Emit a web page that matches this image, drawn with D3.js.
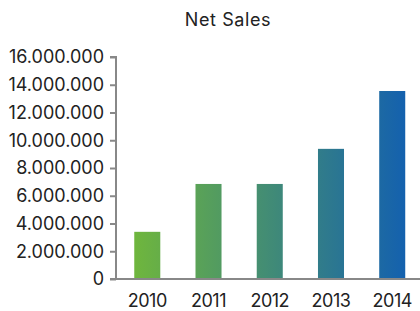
<!DOCTYPE html>
<html><head><meta charset="utf-8">
<script src="https://cdn.jsdelivr.net/npm/d3@7"></script>
<style>
body{margin:0;background:#fff;}
text{font-family:Inter, "Open Sans", sans-serif;}
</style></head>
<body><svg id="c" width="420" height="311"></svg>
<script>
const categories = ["2010","2011","2012","2013","2014"];
const values = [3400000, 6850000, 6850000, 9380000, 13550000];
const yTicks = [0,2000000,4000000,6000000,8000000,10000000,12000000,14000000,16000000];
const title = "Net Sales";

const svg = d3.select("#c");
const x = d3.scaleBand().domain(categories).range([116.5, 423]).paddingInner(0.575).paddingOuter(0.29);
const y = d3.scaleLinear().domain([0,16000000]).range([279,57]);

const defs = svg.append("defs");
const g = defs.append("linearGradient").attr("id","grad").attr("gradientUnits","userSpaceOnUse")
  .attr("x1",134).attr("x2",405).attr("y1",0).attr("y2",0);
g.append("stop").attr("offset","0%").attr("stop-color","#6fb63d");
g.append("stop").attr("offset","100%").attr("stop-color","#1461ae");

svg.append("text").attr("x",228).attr("y",26).attr("text-anchor","middle")
  .attr("font-size",18).attr("letter-spacing",0.6).attr("fill","#222").text(title);

svg.selectAll("rect.bar").data(values).enter().append("rect").attr("class","bar")
  .attr("x",(d,i)=>x(categories[i])).attr("width",x.bandwidth())
  .attr("y",d=>y(d)).attr("height",d=>y(0)-y(d)).attr("fill","url(#grad)");

const fmt = d3.formatLocale({decimal:",",thousands:".",grouping:[3],currency:["",""]}).format(",");
const yAxis = d3.axisLeft(y).tickValues(yTicks).tickFormat(fmt).tickSize(6).tickPadding(6);
const ya = svg.append("g").attr("transform","translate(116,0)").call(yAxis);
ya.select(".domain").attr("stroke","#888").attr("stroke-width",2).attr("d","M-6,57H0V279H-6");
ya.selectAll(".tick line").attr("stroke","#888").attr("stroke-width",2);
ya.selectAll(".tick text").attr("font-size",18).attr("fill","#222").attr("font-family","Inter, sans-serif");

const xAxis = d3.axisBottom(x).tickSize(0).tickPadding(15);
const xa = svg.append("g").attr("transform","translate(0,279)").call(xAxis);
xa.select(".domain").attr("stroke","#888").attr("stroke-width",2).attr("d","M115,0H420");
xa.selectAll(".tick text").attr("font-size",18).attr("letter-spacing",-0.5).attr("fill","#222").attr("font-family","Inter, sans-serif");
</script></body></html>
